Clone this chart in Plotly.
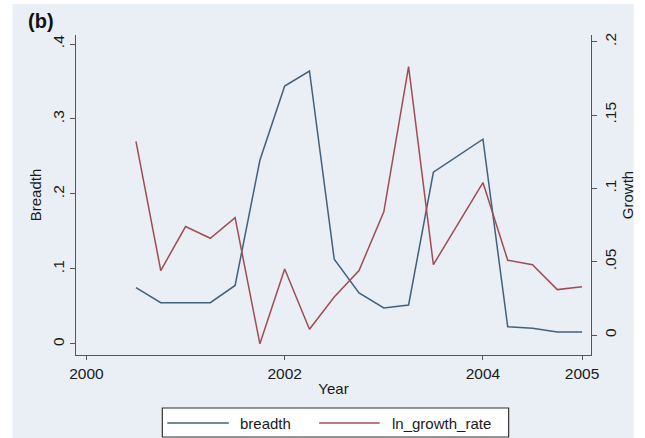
import plotly.graph_objects as go

# Quarterly observations, 2000Q3 through 2005Q1
years = [2000.5, 2000.75, 2001.0, 2001.25, 2001.5, 2001.75, 2002.0, 2002.25,
         2002.5, 2002.75, 2003.0, 2003.25, 2003.5, 2003.75, 2004.0, 2004.25,
         2004.5, 2004.75, 2005.0]
breadth = [0.075, 0.055, 0.055, 0.055, 0.078, 0.245, 0.344, 0.364,
           0.113, 0.068, 0.048, 0.052, 0.229, 0.251, 0.273, 0.023,
           0.021, 0.016, 0.016]
ln_growth_rate = [0.132, 0.044, 0.074, 0.066, 0.080, -0.006, 0.045, 0.004,
                  0.026, 0.044, 0.084, 0.183, 0.048, 0.076, 0.104, 0.051,
                  0.048, 0.031, 0.033]

series_names = ["breadth", "ln_growth_rate"]
x_ticks = [2000, 2002, 2004, 2005]
left_ticks = [0, 0.1, 0.2, 0.3, 0.4]
left_labels = ["0", ".1", ".2", ".3", ".4"]
right_ticks = [0, 0.05, 0.1, 0.15, 0.2]
right_labels = ["0", ".05", ".1", ".15", ".2"]

BLUE = "#41617d"
RED = "#a24c52"
AXIS = "#555555"
TEXT = "#1a1a1a"
FONT = "Liberation Sans, Arial, sans-serif"
TICK_SIZE = 15.5
TITLE_SIZE = 15

fig = go.Figure()
fig.add_trace(go.Scatter(x=years, y=breadth, mode="lines", name=series_names[0],
                         line=dict(color=BLUE, width=1.5)))
fig.add_trace(go.Scatter(x=years, y=ln_growth_rate, mode="lines", name=series_names[1],
                         yaxis="y2", line=dict(color=RED, width=1.5)))

W, H = 645, 438
L, R, T, B = 76, 595, 35, 355
PW, PH = R - L, B - T


def px(x):
    """Canvas x pixel -> paper fraction."""
    return (x - L) / PW


def py(y):
    """Canvas y pixel -> paper fraction."""
    return (B - y) / PH


# Legend drawn as a framed key below the plot region
legend_shapes = [
    dict(type="rect", xref="paper", yref="paper", x0=px(163), x1=px(512),
         y0=py(437), y1=py(408), fillcolor="white",
         line=dict(color="#333333", width=1.2)),
    dict(type="line", xref="paper", yref="paper", x0=px(168), x1=px(230),
         y0=py(423), y1=py(423), line=dict(color=BLUE, width=1.6)),
    dict(type="line", xref="paper", yref="paper", x0=px(321), x1=px(382),
         y0=py(423), y1=py(423), line=dict(color=RED, width=1.6)),
]
legend_text = [
    dict(text=series_names[0], xref="paper", yref="paper", x=px(239), y=py(423),
         xanchor="left", yanchor="middle", showarrow=False,
         font=dict(size=TITLE_SIZE, color=TEXT)),
    dict(text=series_names[1], xref="paper", yref="paper", x=px(392), y=py(423),
         xanchor="left", yanchor="middle", showarrow=False,
         font=dict(size=TITLE_SIZE, color=TEXT)),
]

fig.update_layout(
    width=W, height=H,
    margin=dict(l=L, r=W - R, t=T, b=H - B, pad=0),
    paper_bgcolor="white",
    plot_bgcolor="white",
    font=dict(family=FONT, size=TICK_SIZE, color=TEXT),
    showlegend=False,
    xaxis=dict(range=[1999.895, 2005.09], tickvals=x_ticks,
               ticktext=[str(v) for v in x_ticks],
               ticks="outside", ticklen=4, tickcolor=AXIS, showgrid=False,
               showline=True, linecolor=AXIS, linewidth=1.2, zeroline=False,
               title=dict(text="Year", font=dict(size=TITLE_SIZE), standoff=2),
               tickfont=dict(size=TICK_SIZE)),
    yaxis=dict(range=[-0.0147, 0.412], tickvals=left_ticks, ticktext=left_labels,
               tickangle=-90, ticks="outside", ticklen=5, tickcolor=AXIS,
               showgrid=True, gridcolor="#e9eef2", gridwidth=1,
               showline=True, linecolor=AXIS, linewidth=1.2, zeroline=False,
               title=dict(text="Breadth", font=dict(size=TITLE_SIZE), standoff=4),
               tickfont=dict(size=TICK_SIZE)),
    yaxis2=dict(range=[-0.0136, 0.2046], tickvals=right_ticks, ticktext=right_labels,
                overlaying="y", side="right", anchor="x",
                tickangle=-90, ticks="outside", ticklen=5, tickcolor=AXIS,
                showgrid=False, showline=True, linecolor=AXIS, linewidth=1.2,
                zeroline=False,
                title=dict(text="Growth", font=dict(size=TITLE_SIZE), standoff=4),
                tickfont=dict(size=TICK_SIZE)),
    shapes=[dict(type="rect", xref="paper", yref="paper", layer="below",
                 x0=px(12), x1=px(638), y0=py(438), y1=py(4),
                 fillcolor="#e9eff4", line=dict(width=0))] + legend_shapes,
    annotations=[dict(text="<b>(b)</b>", xref="paper", yref="paper",
                      x=px(26), y=py(21), xanchor="left", yanchor="middle",
                      showarrow=False, font=dict(size=20, color="#111111"))]
                + legend_text,
)

fig.write_html("out.html")
